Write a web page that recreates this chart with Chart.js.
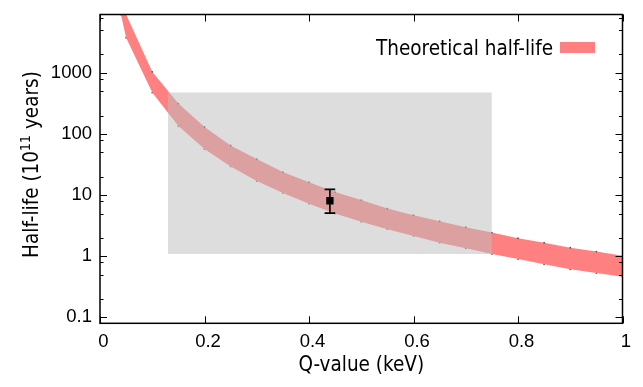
<!DOCTYPE html>
<html>
<head>
<meta charset="utf-8">
<script src="https://cdn.jsdelivr.net/npm/chart.js@4/dist/chart.umd.min.js"></script>
<style>
  html, body { margin: 0; padding: 0; background: #fff; }
</style>
</head>
<body>
<canvas id="chart" width="643" height="387"></canvas>
<script>
// Theoretical band (upper / lower edge)
const qValues = [0.04, 0.05, 0.1, 0.15, 0.2, 0.25, 0.3, 0.35, 0.4, 0.45, 0.5,
                 0.55, 0.6, 0.65, 0.7, 0.75, 0.8, 0.85, 0.9, 0.95, 1.0];
const halfLifeUpper = [20000, 9040, 1040, 314, 130, 65, 38.9, 23.8, 16.3, 11.2, 8.3,
                       6.03, 4.7, 3.75, 2.99, 2.44, 1.97, 1.67, 1.38, 1.19, 1.02];
const halfLifeLower = [9000, 3750, 475, 135, 56.8, 29.4, 17, 10.8, 7.2, 5.0, 3.65,
                       2.77, 2.15, 1.67, 1.35, 1.09, 0.90, 0.74, 0.61, 0.53, 0.46];

// Grey allowed region
const boxQ = [0.13, 0.75];
const boxHalfLife = [1.09, 475];

// Measured point with error bar
const measuredQ = [0.44];
const measuredHalfLife = [8.07];
const measuredLow = [5.07];
const measuredHigh = [12.4];

// Axes
const xTicks = [0, 0.2, 0.4, 0.6, 0.8, 1];
const yTicks = [0.1, 1, 10, 100, 1000];
const yMinorFactors = [2, 5, 8];

const xTitle = 'Q-value (keV)';
const legendLabel = 'Theoretical half-life';
const bandColor = '#ff8080';
const titleFont = '20.5px "DejaVu Sans Condensed", "DejaVu Sans"';

const toPoints = (xs, ys) => xs.map((x, i) => ({ x: x, y: ys[i] }));

// Inward ticks on all four sides and the frame box
const framePlugin = {
    id: 'frame',
    afterDatasetsDraw(chart) {
        const { ctx, chartArea: a, scales: { x, y } } = chart;
        ctx.save();
        ctx.strokeStyle = '#000';
        ctx.lineWidth = 1;
        ctx.beginPath();
        xTicks.forEach(v => {
            const px = Math.round(x.getPixelForValue(v)) + 0.5;
            ctx.moveTo(px, a.bottom); ctx.lineTo(px, a.bottom - 7);
            ctx.moveTo(px, a.top); ctx.lineTo(px, a.top + 7);
        });
        for (let e = -2; e <= 4; e++) {
            const major = Math.pow(10, e);
            const marks = [[major, 7]].concat(yMinorFactors.map(f => [f * major, 3.5]));
            marks.forEach(([v, len]) => {
                if (v < y.min || v > y.max) return;
                const py = Math.round(y.getPixelForValue(v)) + 0.5;
                ctx.moveTo(a.left, py); ctx.lineTo(a.left + len, py);
                ctx.moveTo(a.right, py); ctx.lineTo(a.right - len, py);
            });
        }
        ctx.stroke();
        ctx.lineWidth = 1.5;
        ctx.strokeRect(a.left, a.top, a.right - a.left, a.bottom - a.top);
        ctx.restore();
    }
};

// Axis titles (y title has a superscript) and the key
const labelsPlugin = {
    id: 'labels',
    afterDraw(chart) {
        const { ctx, chartArea: a } = chart;
        ctx.save();
        ctx.fillStyle = '#000';
        ctx.font = titleFont;
        ctx.textAlign = 'center';
        ctx.textBaseline = 'alphabetic';
        ctx.fillText(xTitle, (a.left + a.right) / 2, 370.5);

        // key: text right aligned, sample box to its right
        ctx.textAlign = 'right';
        ctx.fillText(legendLabel, 553, 55);
        ctx.fillStyle = bandColor;
        ctx.fillRect(560, 42, 35, 11);

        // y title
        ctx.fillStyle = '#000';
        ctx.translate(38, 164.5);
        ctx.rotate(-Math.PI / 2);
        ctx.textAlign = 'left';
        const supFont = '14px "DejaVu Sans Condensed", "DejaVu Sans"';
        const p1 = 'Half-life (10', sup = '11', p2 = ' years)';
        ctx.font = titleFont;
        const w1 = ctx.measureText(p1).width, w2 = ctx.measureText(p2).width;
        ctx.font = supFont;
        const ws = ctx.measureText(sup).width;
        let pos = -(w1 + ws + w2) / 2;
        ctx.font = titleFont;
        ctx.fillText(p1, pos, 0); pos += w1;
        ctx.font = supFont;
        ctx.fillText(sup, pos, -8); pos += ws;
        ctx.font = titleFont;
        ctx.fillText(p2, pos, 0);
        ctx.restore();
    }
};

const tickFont = { family: '"Liberation Sans", Arial, sans-serif', size: 18.5 };

new Chart(document.getElementById('chart'), {
    type: 'line',
    data: {
        datasets: [
            {
                // upper edge of the band, filled down to the lower edge
                data: toPoints(qValues, halfLifeUpper),
                borderColor: 'transparent',
                backgroundColor: bandColor,
                fill: '+1',
                pointRadius: 0.9,
                pointBackgroundColor: '#555',
                pointBorderWidth: 0,
                order: 3
            },
            {
                data: toPoints(qValues, halfLifeLower),
                borderColor: 'transparent',
                fill: false,
                pointRadius: 0.9,
                pointBackgroundColor: '#555',
                pointBorderWidth: 0,
                order: 3
            },
            {
                // grey region drawn over the band
                data: toPoints(boxQ, [boxHalfLife[1], boxHalfLife[1]]),
                borderColor: 'transparent',
                backgroundColor: 'rgba(190,190,190,0.52)',
                fill: { value: boxHalfLife[0] },
                pointRadius: 0,
                order: 2
            },
            {
                // error bar with caps
                data: toPoints([measuredQ[0], measuredQ[0]], [measuredLow[0], measuredHigh[0]]),
                borderColor: '#000',
                borderWidth: 1.6,
                fill: false,
                pointStyle: 'line',
                pointRadius: 5.3,
                pointBorderColor: '#000',
                pointBorderWidth: 1.6,
                order: 1
            },
            {
                data: toPoints(measuredQ, measuredHalfLife),
                showLine: false,
                pointStyle: 'rect',
                pointRadius: 5.2,
                pointBackgroundColor: '#000',
                pointBorderWidth: 0,
                order: 0
            }
        ]
    },
    options: {
        responsive: false,
        animation: false,
        layout: { padding: { top: 14.5, right: 20.5, left: 0, bottom: 0 } },
        plugins: {
            legend: { display: false },
            tooltip: { enabled: false }
        },
        elements: { line: { tension: 0 } },
        scales: {
            x: {
                type: 'linear',
                min: 0,
                max: 1,
                afterBuildTicks: scale => { scale.ticks = xTicks.map(v => ({ value: v })); },
                afterFit: scale => {
                    scale.height = 63.7;
                    scale.paddingLeft = 0;
                    scale.paddingRight = 0;
                },
                ticks: {
                    autoSkip: false,
                    maxRotation: 0,
                    padding: 7.5,
                    labelOffset: 3.5,
                    color: '#000',
                    font: tickFont,
                    callback: v => String(Math.round(v * 10) / 10)
                },
                grid: { display: false, drawTicks: false },
                border: { display: false }
            },
            y: {
                type: 'logarithmic',
                min: 0.08,
                max: 9000,
                afterBuildTicks: scale => { scale.ticks = yTicks.map(v => ({ value: v })); },
                afterFit: scale => {
                    scale.width = 100;
                    scale.paddingTop = 0;
                    scale.paddingBottom = 0;
                },
                ticks: {
                    autoSkip: false,
                    padding: 8,
                    color: '#000',
                    font: tickFont,
                    callback: v => String(v)
                },
                grid: { display: false, drawTicks: false },
                border: { display: false }
            }
        }
    },
    plugins: [framePlugin, labelsPlugin]
});
</script>
</body>
</html>
